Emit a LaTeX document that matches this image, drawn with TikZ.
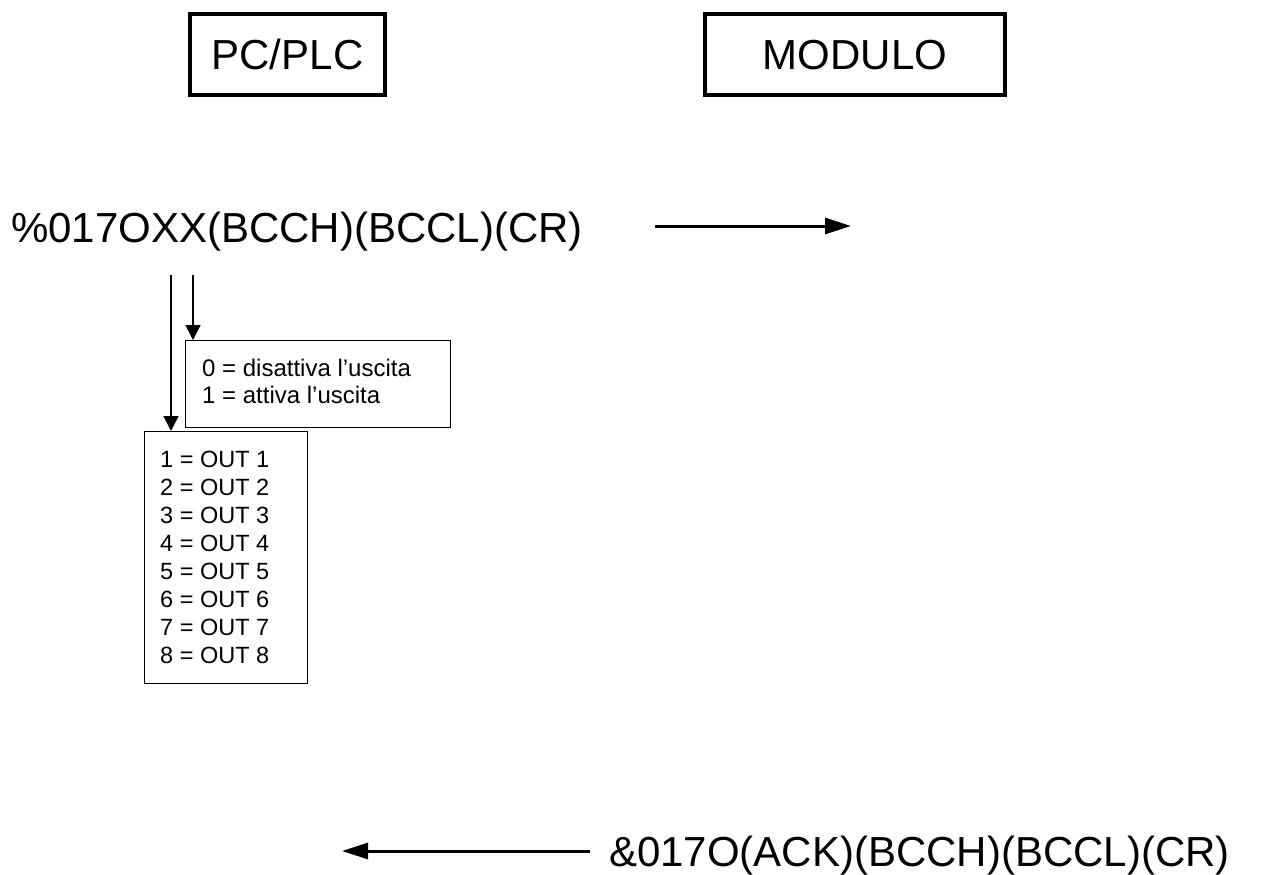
\documentclass[tikz,border=0pt]{standalone}
\usepackage{fontspec}
\setmainfont{Liberation Sans}
\usetikzlibrary{arrows.meta}
\begin{document}
\begin{tikzpicture}[x=1pt,y=-1pt,
  bigbox/.style={draw, line width=3.2pt, inner sep=0pt, font=\fontsize{42}{50}\selectfont, text depth=0pt, text height=30pt},
  bigtext/.style={inner sep=0pt, font=\fontsize{42}{50}\selectfont},
  smallbox/.style={draw, line width=1.2pt, inner sep=0pt, anchor=north west},
  smalltext/.style={inner sep=0pt, anchor=base west, font=\fontsize{24}{28}\selectfont},
  outtext/.style={inner sep=0pt, anchor=base west, font=\fontsize{23.5}{28}\selectfont},
  bigarrow/.style={line width=3pt, -{Triangle[length=26pt,width=16pt]}},
  thinarrow/.style={line width=1.5pt, -{Triangle[length=15pt,width=15pt]}}]
\useasboundingbox (0,0) rectangle (1264,875);
% header boxes
\node[bigbox, minimum width=195pt, minimum height=81pt] (pc) at (287.5,54.5) {PC/PLC};
\node[bigbox, minimum width=300pt, minimum height=81pt] (mod) at (855,54.5) {MODULO};
% request
\node[bigtext, anchor=base west] (req) at (11,242) {\%017OXX(BCCH)(BCCL)(CR)};
\coordinate (reqa) at (655,226);
\coordinate (reqb) at (851,226);
\draw[bigarrow] (reqa) -- (reqb);
% boxes
\node[smallbox, minimum width=265pt, minimum height=87pt] (st) at (185,340) {};
\node[smalltext] (st1) at (202,376) {0 = disattiva l’uscita};
\node[smalltext] (st2) at (202,403.5) {1 = attiva l’uscita};
\node[smallbox, minimum width=163pt, minimum height=252pt] (out) at (144,431) {};
\foreach \i in {1,...,8}{
  \node[outtext] (o\i) at (160,{467+28*(\i-1)}) {\i{} = OUT \i};
}
% vertical arrows
\coordinate (v1) at (171,275);
\coordinate (v2) at (193,275);
\draw[thinarrow] (v1) -- (v1 |- out.north);
\draw[thinarrow] (v2) -- (v2 |- st.north);
% response
\node[bigtext, anchor=base east] (resp) at (1230,866) {\&017O(ACK)(BCCH)(BCCL)(CR)};
\coordinate (respa) at (590,851);
\coordinate (respb) at (342,851);
\draw[bigarrow] (respa) -- (respb);
\end{tikzpicture}
\end{document}
